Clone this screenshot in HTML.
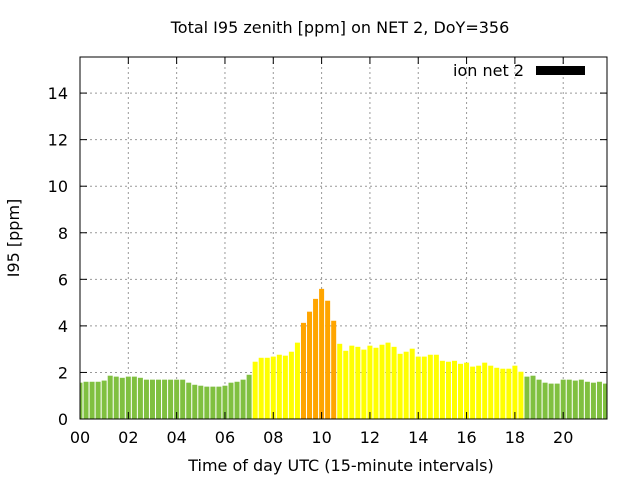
<!DOCTYPE html>
<html><head><meta charset="utf-8"><style>
body{margin:0;background:#fff}
text{font-family:"DejaVu Sans","Liberation Sans",sans-serif;font-size:16px;fill:#000}
</style></head><body>
<svg id="chart" width="640" height="480" xmlns="http://www.w3.org/2000/svg">
<rect width="640" height="480" fill="#fff"/>
<text x="340" y="33" text-anchor="middle">Total I95 zenith [ppm] on NET 2, DoY=356</text>
<text x="341" y="471" text-anchor="middle">Time of day UTC (15-minute intervals)</text>
<text transform="translate(19,238) rotate(-90)" text-anchor="middle">I95 [ppm]</text>
<g id="grid"></g><g id="bars"></g><g id="axes"></g>
<g>
<text x="524" y="76" text-anchor="end">ion net 2</text>
<rect x="536" y="66" width="49" height="9" fill="#000"/>
</g>
</svg>
<script>
const values=[1.56,1.60,1.60,1.60,1.65,1.86,1.82,1.77,1.82,1.82,1.77,1.69,1.69,1.69,1.69,1.69,1.69,1.69,1.56,1.47,1.43,1.39,1.39,1.39,1.43,1.56,1.60,1.69,1.90,
2.46,2.63,2.63,2.68,2.76,2.72,2.89,3.28,4.13,4.61,5.16,5.59,5.08,4.22,3.23,2.93,3.15,3.10,2.98,3.15,3.06,3.19,3.28,3.10,2.80,2.89,3.02,2.68,2.68,2.76,2.76,2.50,2.46,2.50,2.37,2.42,2.25,2.29,2.42,2.29,2.20,2.16,2.16,2.29,2.03,
1.82,1.86,1.69,1.56,1.52,1.52,1.69,1.69,1.65,1.69,1.60,1.56,1.60,1.52];
const xTicks=["00","02","04","06","08","10","12","14","16","18","20"];
const yTicks=[0,2,4,6,8,10,12,14];
const NS="http://www.w3.org/2000/svg";
const L=80,R=607,T=57,B=419,XMAX=87.25,YMAX=15.55;
const xs=i=>L+(R-L)*i/XMAX, ys=v=>B-(B-T)*v/YMAX;
function mk(tag,at,parent){const e=document.createElementNS(NS,tag);for(const k in at)e.setAttribute(k,at[k]);document.getElementById(parent).appendChild(e);return e;}
yTicks.forEach((v,i)=>{const y=ys(v);
 if(v>0){const g=mk('line',{x1:L,x2:R,y1:y,y2:y,stroke:'#999','stroke-dasharray':'2,3'},'grid');
 
 }
 const t=mk('text',{x:L-12,y:y+6,'text-anchor':'end'},'axes');t.textContent=v;
 
 
 mk('line',{x1:L,x2:L+7,y1:y,y2:y,stroke:'#000'},'axes');mk('line',{x1:R,x2:R-7,y1:y,y2:y,stroke:'#000'},'axes');});
xTicks.forEach((lab,i)=>{const x=xs(i*8);
 if(i>0){const g=mk('line',{x1:x,x2:x,y1:T,y2:B,stroke:'#999','stroke-dasharray':'2,3'},'grid');
 
 }
 const t=mk('text',{x:x,y:443,'text-anchor':'middle'},'axes');t.textContent=lab;
 
 
 mk('line',{x1:x,x2:x,y1:B,y2:B-7,stroke:'#000'},'axes');mk('line',{x1:x,x2:x,y1:T,y2:T+7,stroke:'#000'},'axes');});
values.forEach((v,i)=>{const c=v<2?'#80c040':(v<3.5?'#ffff00':'#ffa500');
 let x0=xs(i)-2.5,x1=xs(i)+2.5;x0=Math.max(x0,L);x1=Math.min(x1,R);
 const r=mk('rect',{x:x0,y:ys(v),width:x1-x0,height:B-ys(v),fill:c},'bars');
 
 });
const f=mk('rect',{x:L,y:T,width:R-L,height:B-T,fill:'none',stroke:'#000'},'axes');


</script>
</body></html>
